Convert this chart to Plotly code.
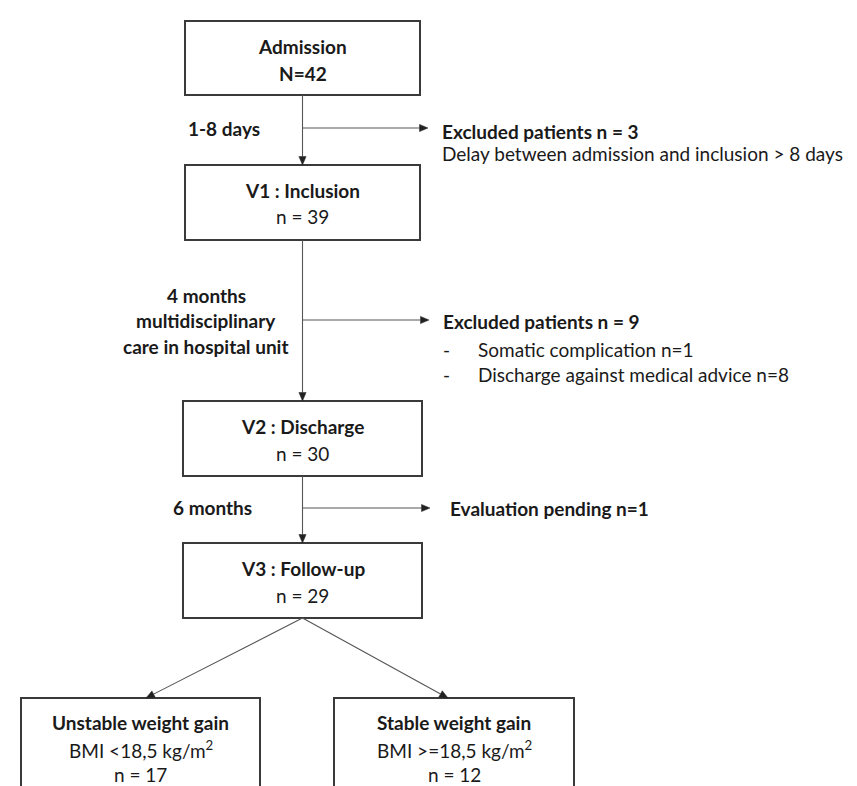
import math
import plotly.graph_objects as go

# ---- data ----
stage_titles = ["Admission", "V1 : Inclusion", "V2 : Discharge", "V3 : Follow-up"]
stage_counts = ["N=42", "n = 39", "n = 30", "n = 29"]
stage_count_bold = [True, False, False, False]

durations = [["1-8 days"], ["4 months", "multidisciplinary", "care in hospital unit"], ["6 months"]]

excl_titles = ["Excluded patients n = 3", "Excluded patients n = 9", "Evaluation pending n=1"]
excl_reasons = [["Delay between admission and inclusion > 8 days"],
                ["Somatic complication n=1", "Discharge against medical advice n=8"],
                []]
excl_bullets = [False, True, False]

outcome_titles = ["Unstable weight gain", "Stable weight gain"]
outcome_bmi = ["BMI <18,5 kg/m<sup>2</sup>", "BMI >=18,5 kg/m<sup>2</sup>"]
outcome_counts = ["n = 17", "n = 12"]

# ---- layout geometry (pixels, y downward) ----
W, H = 857, 786
FONT = "Lato"
FS = 19
BOX_COL = "#3a3a3a"
LINE_COL = "#555555"
HEAD_COL = "#222222"
TXT = "#1a1a1a"

stage_boxes = [(177, 412, 13, 87), (177, 412, 157, 232), (175, 414, 393, 468), (175, 414, 535, 610)]
stage_text_y = [(38, 65), (182, 208), (418, 445), (560, 587)]
cx = 294.5
branch_y = [120, 312, 500]
branch_end = [420, 421, 422]
excl_x = [432, 433, 440]
excl_title_y = [123, 313, 500]
excl_line_y = [[145], [341, 366], []]
dur_pos = [("left", 178, [120]), ("center", 198, [287, 312, 338]), ("left", 163, [499])]

out_boxes = [(13, 252, 690, 820), (326, 566, 690, 820)]
out_text_y = [714, 741, 766]
out_arrow_x = [138, 440]

fig = go.Figure()
shapes = []
ann = []


def text(x, y, s, bold=False, anchor="center"):
    ann.append(dict(x=x, y=y, xref="x", yref="y", text=(f"<b>{s}</b>" if bold else s),
                    showarrow=False, xanchor=anchor, yanchor="middle",
                    font=dict(family=FONT, size=FS, color=TXT)))


def arrow(x0, y0, x1, y1, head_len=8.5, head_half=3.6):
    d = math.hypot(x1 - x0, y1 - y0)
    ux, uy = (x1 - x0) / d, (y1 - y0) / d
    bx, by = x1 - ux * head_len, y1 - uy * head_len
    shapes.append(dict(type="line", x0=x0, y0=y0, x1=bx, y1=by, xref="x", yref="y",
                       line=dict(color=LINE_COL, width=1.1)))
    px, py = -uy * head_half, ux * head_half
    path = (f"M{x1},{y1} L{bx + px},{by + py} L{bx - px},{by - py} Z")
    shapes.append(dict(type="path", path=path, xref="x", yref="y",
                       fillcolor=HEAD_COL, line=dict(color=HEAD_COL, width=0.5)))


for (x0, x1, y0, y1), t, c, cb, (ty, cy) in zip(stage_boxes, stage_titles, stage_counts,
                                                stage_count_bold, stage_text_y):
    shapes.append(dict(type="rect", x0=x0, x1=x1, y0=y0, y1=y1, xref="x", yref="y",
                       line=dict(color=BOX_COL, width=2), fillcolor="white", layer="below"))
    text((x0 + x1) / 2, ty, t, bold=True)
    text((x0 + x1) / 2, cy, c, bold=cb)

# main vertical arrows
for i in range(3):
    arrow(cx, stage_boxes[i][3], cx, stage_boxes[i + 1][2])

# side branches
for i in range(3):
    arrow(cx, branch_y[i], branch_end[i], branch_y[i])
    text(excl_x[i], excl_title_y[i], excl_titles[i], bold=True, anchor="left")
    for r, ry in zip(excl_reasons[i], excl_line_y[i]):
        if excl_bullets[i]:
            text(excl_x[i], ry, "-", anchor="left")
            text(excl_x[i] + 35, ry, r, anchor="left")
        else:
            text(excl_x[i], ry, r, anchor="left")

# durations
for lines, (anc, x, ys) in zip(durations, dur_pos):
    for s, y in zip(lines, ys):
        text(x, y, s, bold=True, anchor=anc)

# outcome boxes
for (x0, x1, y0, y1), t, b, c, ax_ in zip(out_boxes, outcome_titles, outcome_bmi,
                                          outcome_counts, out_arrow_x):
    shapes.append(dict(type="rect", x0=x0, x1=x1, y0=y0, y1=y1, xref="x", yref="y",
                       line=dict(color=BOX_COL, width=2), fillcolor="white", layer="below"))
    xm = (x0 + x1) / 2
    text(xm, out_text_y[0], t, bold=True)
    text(xm, out_text_y[1], b)
    text(xm, out_text_y[2], c)
    arrow(cx, stage_boxes[3][3], ax_, y0)

fig.update_layout(
    width=W, height=H, margin=dict(l=0, r=0, t=0, b=0),
    paper_bgcolor="white", plot_bgcolor="white",
    xaxis=dict(range=[0, W], visible=False, fixedrange=True),
    yaxis=dict(range=[H, 0], visible=False, fixedrange=True),
    shapes=shapes, annotations=ann, showlegend=False,
)
fig.write_html("out.html")
